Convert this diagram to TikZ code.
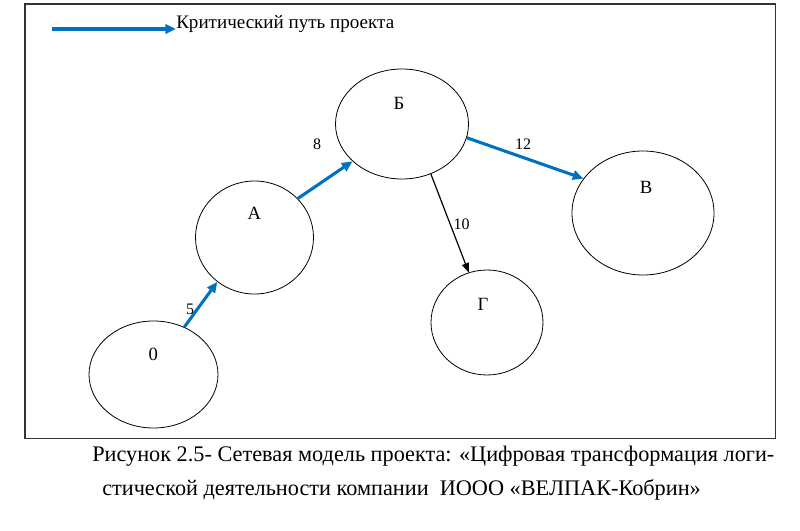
\documentclass[tikz,border=0pt]{standalone}
\usepackage{fontspec}
\setmainfont{Liberation Serif}
\usetikzlibrary{arrows.meta,shapes.geometric}
\definecolor{critblue}{HTML}{0070C0}
\tikzset{
  evt/.style={draw=black, line width=0.6pt, ellipse, inner sep=0pt},
  lbl/.style={font=\fontsize{14}{16}\selectfont, inner sep=0pt},
  legst/.style={font=\fontsize{14.3}{16}\selectfont, inner sep=0pt},
  num/.style={font=\fontsize{12}{14}\selectfont, inner sep=0pt},
  crit/.style={draw=critblue, line width=2.3pt, -{Triangle[length=8pt,width=7pt]}},
  plain/.style={draw=black, line width=0.9pt, -{Triangle[length=7pt,width=5.5pt]}},
  capt/.style={font=\fontsize{16.7}{19}\selectfont, inner sep=0pt, anchor=base west},
}
\begin{document}
\begin{tikzpicture}[x=0.75pt, y=-0.75pt]
\useasboundingbox (0,0) rectangle (800,531);
\draw[black!80, line width=1pt] (25,4) rectangle (775.5,438.5);
% legend
\node[legst, anchor=base west] (legtxt) at (176,29) {Критический путь проекта};
\coordinate (legs) at (52,29);
\draw[crit] (legs) -- (legs -| legtxt.west);
% events
\node[evt, minimum width=96.75pt, minimum height=80.25pt,
  label={[lbl, shift={(-0.2,-19.8)}]center:0}] (n0) at (153.5,374.5) {};
\node[evt, minimum width=88.5pt, minimum height=84.75pt,
  label={[lbl, shift={(-0.2,-24)}]center:А}] (nA) at (254.5,237.5) {};
\node[evt, minimum width=99.75pt, minimum height=82.5pt,
  label={[lbl, shift={(-3,-20.3)}]center:Б}] (nB) at (402,124) {};
\node[evt, minimum width=106.5pt, minimum height=93pt,
  label={[lbl, shift={(3,-26)}]center:В}] (nV) at (643,213) {};
\node[evt, minimum width=84pt, minimum height=78.75pt,
  label={[lbl, shift={(-4,-18.5)}]center:Г}] (nG) at (487,322.5) {};
% activities
\draw[crit] (n0.57) -- (nA.230);
\draw[crit] (nA.42) -- (nB.217);
\draw[crit] (nB.-12) -- (nV.150);
\draw[plain] (nB.-60) -- (nG.110);
% durations
\node[num] (d5) at (190,309) {5};
\node[num] (d8) at (317,144) {8};
\node[num] (d12) at (523,144) {12};
\node[num] (d10) at (461.5,224) {10};
% caption
\node[capt] (cap1) at (92,461) {Рисунок 2.5- Сетевая модель проекта: «Цифровая трансформация логи-};
\node[capt] (cap2) at (102,495) {стической деятельности компании\ \ ИООО «ВЕЛПАК-Кобрин»};
\end{tikzpicture}
\end{document}
